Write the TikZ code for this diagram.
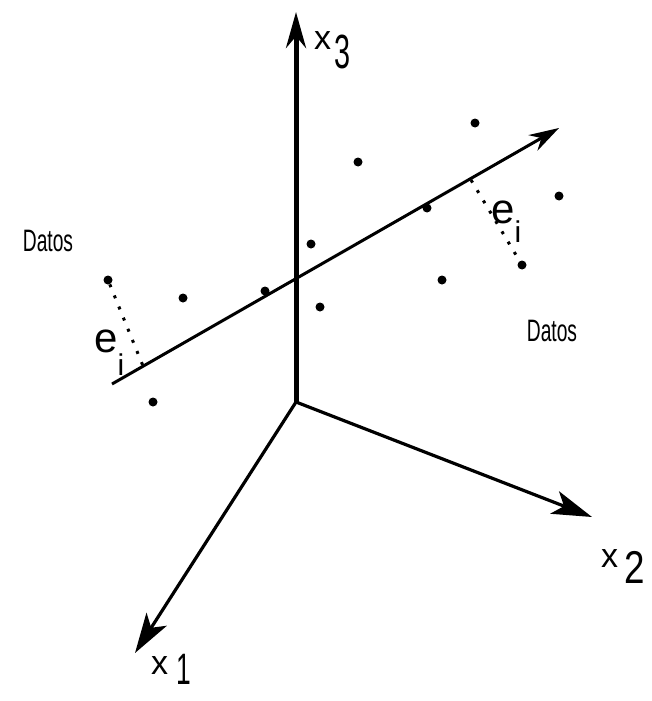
\documentclass[tikz,border=0pt]{standalone}
\usepackage{fontspec}
\usepackage{graphicx}
\setmainfont{Liberation Sans}
\usetikzlibrary{arrows.meta}
\begin{document}
\begin{tikzpicture}[x=1pt,y=-1pt,
  axisthick/.style={line width=5pt, -{Stealth[length=36pt,width=20pt]}},
  axisline/.style={line width=3.2pt, -{Stealth[length=40pt,width=24pt,inset=10pt]}},
  mainline/.style={line width=3pt, -{Stealth[length=30pt,width=18pt]}},
  perp/.style={line width=3pt, dash pattern=on 3pt off 9pt},
  datapt/.style={circle, fill=black, inner sep=0pt, minimum size=9pt},
  lbl/.style={inner sep=0pt, anchor=base west},
  datos/.style={inner sep=0pt, font=\fontsize{31}{31}\selectfont, xscale=0.62, yscale=1}]
\useasboundingbox (0,0) rectangle (651,701);
% axes
\coordinate (O) at (296,402);
\coordinate (X3) at (296,12);
\coordinate (X2) at (592,517);
\coordinate (X1) at (135,653);
\draw[axisthick] (O) -- (X3);
\draw[axisline] (O) -- (X2);
\draw[axisline] (O) -- (X1);
% principal line
\coordinate (L1) at (112,384);
\coordinate (L2) at (559,128);
\draw[mainline] (L1) -- (L2);
% data points
\node[datapt] (p1) at (475,123) {};
\node[datapt] (p2) at (358,162) {};
\node[datapt] (p3) at (559,196) {};
\node[datapt] (p4) at (311,244) {};
\node[datapt] (p5) at (522,265) {};
\node[datapt] (p6) at (442,280) {};
\node[datapt] (p7) at (183,298) {};
\node[datapt] (p8) at (320,307) {};
\node[datapt] (p9) at (108,280) {};
\node[datapt] (p10) at (153,402) {};
\node[datapt] (q1) at (427,208) {};
\node[datapt] (q2) at (265,291) {};
% perpendicular residuals
\coordinate (F1) at (471,180);
\coordinate (F2) at (143,366);
\draw[perp] (F1) -- (p5);
\draw[perp] (p9) -- (F2);
% labels
\node[lbl, font=\fontsize{42}{42}\selectfont] (er) at (491,223) {e\raisebox{-19pt}{\fontsize{30}{30}\selectfont i}};
\node[lbl, font=\fontsize{42}{42}\selectfont] (el) at (94,352) {e\raisebox{-23pt}{\fontsize{30}{30}\selectfont i}};
\node[datos] (dl) at (48,241) {Datos};
\node[datos] (dr) at (552,331) {Datos};
\node[lbl, font=\fontsize{34}{34}\selectfont] (lx3) at (314,50) {x\hspace{3pt}\raisebox{-18pt}{\fontsize{48}{48}\selectfont\scalebox{0.6}[1]{3}}};
\node[lbl, font=\fontsize{34}{34}\selectfont] (lx2) at (601,567) {x\hspace{6pt}\raisebox{-16pt}{\fontsize{46}{46}\selectfont\scalebox{0.8}[1]{2}}};
\node[lbl, font=\fontsize{34}{34}\selectfont] (lx1) at (151,674) {x\hspace{8pt}\raisebox{-10pt}{\fontsize{44}{44}\selectfont\scalebox{0.6}[1]{1}}};
\end{tikzpicture}
\end{document}
